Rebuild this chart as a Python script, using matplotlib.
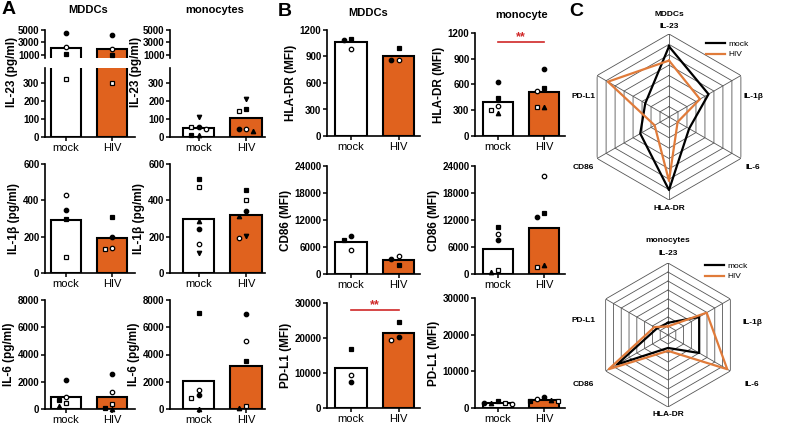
import numpy as np
import matplotlib.pyplot as plt

plt.rcParams['font.family'] = ['Liberation Sans', 'DejaVu Sans']

W, H = 786, 426
ORANGE = '#E0621E'
RED = '#D02828'
RADAR_ORANGE = '#E07B3A'

groups = ['mock', 'HIV']

# ---- panel A: cytokines (pg/ml) ----
il23_mddc_mock = [4500, 2300, 1100, 320]
il23_mddc_hiv = [4200, 2000, 1000, 300]
il23_mddc_mk = ['fo', 'eo', 'fs', 'es']

il23_mono_mock = [110, 55, 45, 55, 10, 10]
il23_mono_hiv = [210, 145, 45, 45, 35, 155]
il23_mono_mk = ['fv', 'es', 'eo', 'fo', 'f^', 'fs']

il1b_mddc_mock = [430, 345, 295, 90]
il1b_mddc_hiv = [135, 200, 310, 130]
il1b_mddc_mk = ['eo', 'fo', 'fs', 'es']

il1b_mono_mock = [520, 475, 285, 240, 160, 110]
il1b_mono_hiv = [455, 400, 315, 340, 195, 205]
il1b_mono_mk = ['fs', 'es', 'f^', 'fo', 'eo', 'fv']

il6_mddc_mock = [2150, 900, 650, 450, 250]
il6_mddc_hiv = [2600, 1250, 50, 400, 20]
il6_mddc_mk = ['fo', 'eo', 'fs', 'es', 'f^']

il6_mono_mock = [7050, 1400, 1000, 800, 0]
il6_mono_hiv = [3500, 5000, 7000, 250, 50]
il6_mono_mk = ['fs', 'eo', 'fo', 'es', 'f^']

# ---- panel B: surface markers (MFI) ----
hladr_mddc_mock = [1100, 1090, 990]
hladr_mddc_hiv = [1000, 855, 860]
hladr_mddc_mk = ['fs', 'fo', 'eo']

hladr_mono_mock = [630, 445, 355, 300, 270]
hladr_mono_hiv = [780, 560, 520, 340, 340]
hladr_mono_mk = ['fo', 'fs', 'eo', 'es', 'f^']

cd86_mddc_mock = [8500, 7600, 5300]
cd86_mddc_hiv = [3300, 2000, 4100]
cd86_mddc_mk = ['fo', 'fs', 'eo']

cd86_mono_mock = [7500, 10500, 8800, 1000, 500]
cd86_mono_hiv = [12700, 13500, 21800, 1500, 2000]
cd86_mono_mk = ['fo', 'fs', 'eo', 'es', 'f^']

pdl1_mddc_mock = [7400, 17000, 9500]
pdl1_mddc_hiv = [20300, 24700, 19300]
pdl1_mddc_mk = ['fo', 'fs', 'eo']

pdl1_mono_mock = [1300, 1800, 1200, 1300, 1400]
pdl1_mono_hiv = [3000, 2000, 2500, 1800, 2200]
pdl1_mono_mk = ['fo', 'fs', 'eo', 'es', 'f^']

# ---- panel C: radar (relative scale 0-1) ----
radar_axes = ['IL-23', 'IL-1β', 'IL-6', 'HLA-DR', 'CD86', 'PD-L1']
radar_mddc_mock = [0.85, 0.55, 0.28, 0.88, 0.40, 0.33]
radar_mddc_hiv = [0.68, 0.43, 0.12, 0.77, 0.20, 0.85]
radar_mono_mock = [0.17, 0.50, 0.50, 0.18, 0.82, 0.18]
radar_mono_hiv = [0.12, 0.62, 0.95, 0.22, 0.95, 0.22]

fig = plt.figure(figsize=(W / 100, H / 100), dpi=100)


def rect(l, t, r, b):
    return [l / W, 1 - b / H, (r - l) / W, (b - t) / H]


def style(ax, bottom=True, top=False):
    for s in ['top', 'right']:
        ax.spines[s].set_visible(False)
    ax.spines['left'].set_linewidth(1.2)
    ax.spines['bottom'].set_linewidth(1.2)
    ax.spines['bottom'].set_visible(bottom)
    ax.tick_params(axis='y', length=3, width=1.1, labelsize=7, pad=1)
    ax.tick_params(axis='x', length=3, width=1.1, labelsize=8, pad=1.5)
    for lab in ax.get_yticklabels():
        lab.set_fontweight('bold')


def marker_kw(code):
    face = 'black' if code[0] == 'f' else 'white'
    return dict(marker=code[1], mfc=face, mec='black', mew=0.9,
                ms=3.2, ls='none', zorder=5, clip_on=False)


def spread(ax_for, xs, vals):
    # simple beeswarm: nudge markers sideways when they would overlap
    placed = []
    order = np.argsort(vals)[::-1]
    res = [0] * len(vals)
    for i in order:
        ax = ax_for(vals[i])
        for dx in [0, -0.15, 0.15, -0.3, 0.3]:
            p = ax.transData.transform((xs + dx, vals[i]))
            if all(abs(p[0] - q[0]) > 5.5 or abs(p[1] - q[1]) > 5 for q in placed):
                break
        placed.append(p)
        res[i] = dx
    return res


def bars(axs, ax_for, mock, hiv, mk):
    for ax in axs:
        ax.bar([0, 1], [np.mean(mock), np.mean(hiv)], width=0.66,
               color=['white', ORANGE], edgecolor='black', linewidth=1.5, zorder=2)
    for xi, vals in enumerate([mock, hiv]):
        offs = spread(ax_for, xi, vals)
        for v, c, d in zip(vals, mk, offs):
            ax_for(v).plot(xi + d, v, **marker_kw(c))


def panel(box, mock, hiv, mk, ymax, step, ylabel, xlim):
    ax = fig.add_axes(rect(*box))
    ax.set_ylim(0, ymax)
    ax.set_xlim(*xlim)
    ax.set_yticks(np.arange(0, ymax + 1, step))
    ax.set_xticks([0, 1])
    ax.set_xticklabels(groups)
    bars([ax], lambda v: ax, mock, hiv, mk)
    style(ax)
    ax.set_ylabel(ylabel, fontsize=8.5, fontweight='bold', labelpad=2)
    return ax


def broken_panel(l, r, mock, hiv, mk, ylabel, xlim):
    lo = fig.add_axes(rect(l, 68, r, 137))
    hi = fig.add_axes(rect(l, 30, r, 58))
    lo.set_ylim(0, 380)
    hi.set_ylim(500, 5000)
    lo.set_yticks([0, 100, 200, 300])
    hi.set_yticks([1000, 3000, 5000])
    for a in (lo, hi):
        a.set_xlim(*xlim)
        a.set_xticks([0, 1])
    lo.set_xticklabels(groups)
    hi.set_xticklabels([])
    bars([lo, hi], lambda v: hi if v > 380 else lo, mock, hiv, mk)
    style(lo)
    style(hi, bottom=False)
    hi.tick_params(axis='x', length=0)
    lo.set_ylabel(ylabel, fontsize=8.5, fontweight='bold', labelpad=2)
    lo.yaxis.set_label_coords(-0.3, 0.95)
    return lo, hi


def sig(ax, y, ytxt):
    ax.plot([0, 1], [y, y], color=RED, lw=1.2, clip_on=False)
    ax.text(0.5, ytxt, '**', color=RED, ha='center', va='center',
            fontsize=9, fontweight='bold')


xa1 = (-0.45, 1.5)
xa2 = (-0.6, 1.4)
xb = (-0.5, 1.45)

broken_panel(45, 135, il23_mddc_mock, il23_mddc_hiv, il23_mddc_mk, 'IL-23 (pg/ml)', xa1)
broken_panel(170, 265, il23_mono_mock, il23_mono_hiv, il23_mono_mk, 'IL-23 (pg/ml)', xa2)
panel((45, 164, 135, 273), il1b_mddc_mock, il1b_mddc_hiv, il1b_mddc_mk, 600, 200, 'IL-1β (pg/ml)', xa1)
panel((170, 164, 265, 273), il1b_mono_mock, il1b_mono_hiv, il1b_mono_mk, 600, 200, 'IL-1β (pg/ml)', xa2)
panel((45, 300, 135, 409), il6_mddc_mock, il6_mddc_hiv, il6_mddc_mk, 8000, 2000, 'IL-6 (pg/ml)', xa1)
panel((170, 300, 265, 409), il6_mono_mock, il6_mono_hiv, il6_mono_mk, 8000, 2000, 'IL-6 (pg/ml)', xa2)

panel((327, 30, 420, 136), hladr_mddc_mock, hladr_mddc_hiv, hladr_mddc_mk, 1200, 300, 'HLA-DR (MFI)', xb)
a = panel((475, 33, 565, 136), hladr_mono_mock, hladr_mono_hiv, hladr_mono_mk, 1200, 300, 'HLA-DR (MFI)', xb)
sig(a, 1095, 1150)
panel((327, 166, 420, 274), cd86_mddc_mock, cd86_mddc_hiv, cd86_mddc_mk, 24000, 6000, 'CD86 (MFI)', xb)
panel((475, 166, 565, 274), cd86_mono_mock, cd86_mono_hiv, cd86_mono_mk, 24000, 6000, 'CD86 (MFI)', xb)
a = panel((327, 303, 420, 408), pdl1_mddc_mock, pdl1_mddc_hiv, pdl1_mddc_mk, 30000, 10000, 'PD-L1 (MFI)', xb)
sig(a, 28000, 29400)
panel((475, 298, 565, 408), pdl1_mono_mock, pdl1_mono_hiv, pdl1_mono_mk, 30000, 10000, 'PD-L1 (MFI)', xb)

# titles and panel letters
for x, y, s in [(88, 10, 'MDDCs'), (215, 10, 'monocytes'), (368, 13, 'MDDCs'), (522, 15, 'monocyte')]:
    fig.text(x / W, 1 - y / H, s, ha='center', va='center', fontsize=8, fontweight='bold')
for x, y, s in [(9, 10, 'A'), (285, 12, 'B'), (576, 12, 'C')]:
    fig.text(x / W, 1 - y / H, s, ha='center', va='center', fontsize=14, fontweight='bold')


def radar(cx, cy, R, mock, hiv, title, ty, ldx, ldy, legy):
    ax = fig.add_axes(rect(cx - R, cy - R, cx + R, cy + R), projection='polar')
    ax.set_theta_offset(np.pi / 2)
    ax.set_theta_direction(-1)
    ang = np.linspace(0, 2 * np.pi, len(radar_axes), endpoint=False)
    ring = np.append(ang, ang[0])
    for r in np.linspace(0.125, 1, 8):
        ax.plot(ring, [r] * len(ring), color='#555555', lw=0.6, zorder=1)
    for t in ang:
        ax.plot([t, t], [0, 1], color='#555555', lw=0.6, zorder=1)
    ax.plot(ring, mock + mock[:1], color='black', lw=1.6, zorder=3, label='mock')
    ax.plot(ring, hiv + hiv[:1], color=RADAR_ORANGE, lw=1.6, zorder=3, label='HIV')
    ax.set_ylim(0, 1)
    ax.grid(False)
    ax.spines['polar'].set_visible(False)
    ax.set_yticks([])
    ax.set_xticks([])
    for name, dx, dy in zip(radar_axes, ldx, ldy):
        fig.text((cx + dx) / W, 1 - (cy + dy) / H, name, ha='center', va='center',
                 fontsize=6, fontweight='bold')
    fig.text(cx / W, 1 - ty / H, title, ha='center', va='center', fontsize=6, fontweight='bold')
    ax.legend(loc='upper left', bbox_to_anchor=((cx + 34) / W, 1 - legy / H),
              bbox_transform=fig.transFigure, frameon=False,
              fontsize=6, handlelength=2.2, handletextpad=0.4,
              borderaxespad=0, labelspacing=0.3)


radar(669, 117, 83, radar_mddc_mock, radar_mddc_hiv, 'MDDCs', 14,
      [0, 84, 84, 0, -86, -86], [-90, -20, 51, 92, 51, -20], 37)
radar(668, 335, 72, radar_mono_mock, radar_mono_hiv, 'monocytes', 241,
      [0, 84, 84, 0, -85, -85], [-81, -13, 49, 80, 49, -15], 259)

fig.savefig('out.png', dpi=100)
